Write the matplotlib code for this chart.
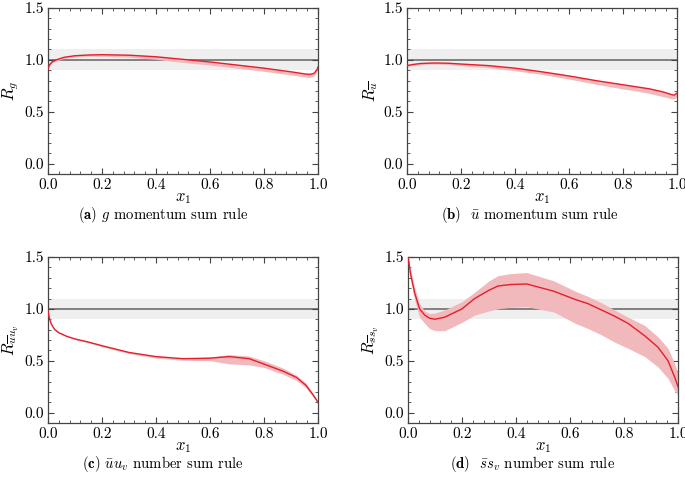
import numpy as np
import matplotlib.pyplot as plt
from matplotlib.ticker import MultipleLocator, FormatStrFormatter

plt.rcParams["font.family"] = "serif"
plt.rcParams["font.serif"] = ["cmr10"]
plt.rcParams["mathtext.fontset"] = "cm"
plt.rcParams["axes.formatter.use_mathtext"] = True

# (a) g momentum sum rule
xa = [0, 0.005, 0.015, 0.03, 0.06, 0.1, 0.15, 0.2, 0.3, 0.4, 0.5, 0.6, 0.7,
      0.8, 0.9, 0.95, 0.97, 0.985, 0.995, 1.0]
ca = [0.91, 0.95, 0.98, 1.0, 1.025, 1.04, 1.047, 1.05, 1.045, 1.03, 1.005,
      0.98, 0.95, 0.92, 0.885, 0.865, 0.86, 0.87, 0.9, 0.93]
la = [0.90, 0.94, 0.97, 0.99, 1.015, 1.03, 1.035, 1.035, 1.025, 1.005, 0.975,
      0.95, 0.92, 0.89, 0.855, 0.835, 0.83, 0.845, 0.88, 0.92]
ua = [0.915, 0.955, 0.985, 1.005, 1.03, 1.045, 1.052, 1.055, 1.05, 1.035,
      1.01, 0.985, 0.955, 0.925, 0.89, 0.87, 0.865, 0.875, 0.905, 0.935]

# (b) ubar momentum sum rule
xb = [0, 0.02, 0.05, 0.1, 0.15, 0.2, 0.3, 0.4, 0.5, 0.6, 0.7, 0.8, 0.85, 0.9,
      0.95, 0.98, 0.99, 1.0]
cb = [0.945, 0.955, 0.965, 0.97, 0.968, 0.96, 0.945, 0.92, 0.885, 0.845, 0.8,
      0.76, 0.74, 0.72, 0.69, 0.665, 0.66, 0.68]
lb = [0.935, 0.945, 0.955, 0.96, 0.955, 0.945, 0.925, 0.895, 0.86, 0.815,
      0.765, 0.72, 0.7, 0.675, 0.645, 0.625, 0.625, 0.65]
ub = [0.95, 0.96, 0.97, 0.975, 0.973, 0.965, 0.95, 0.925, 0.89, 0.85, 0.805,
      0.765, 0.745, 0.725, 0.695, 0.67, 0.665, 0.685]

# (c) ubar u_v number sum rule
xc = [0, 0.004, 0.012, 0.025, 0.04, 0.07, 0.1, 0.15, 0.2, 0.3, 0.4, 0.5, 0.6,
      0.67, 0.745, 0.8, 0.87, 0.92, 0.955, 0.98, 0.995, 1.0]
cc = [0.98, 0.92, 0.855, 0.8, 0.77, 0.735, 0.71, 0.68, 0.645, 0.58, 0.54,
      0.52, 0.525, 0.54, 0.52, 0.468, 0.40, 0.34, 0.264, 0.177, 0.12, 0.097]
lc = [0.975, 0.915, 0.85, 0.795, 0.765, 0.73, 0.705, 0.672, 0.635, 0.57,
      0.525, 0.505, 0.5, 0.47, 0.46, 0.435, 0.37, 0.31, 0.24, 0.16, 0.105, 0.09]
uc = [0.985, 0.925, 0.86, 0.805, 0.775, 0.74, 0.715, 0.685, 0.65, 0.585,
      0.545, 0.525, 0.535, 0.56, 0.545, 0.50, 0.43, 0.36, 0.285, 0.19, 0.13,
      0.105]

# (d) sbar s_v number sum rule
xd = [0, 0.01, 0.025, 0.043, 0.062, 0.08, 0.1, 0.136, 0.2, 0.247, 0.3, 0.333,
      0.38, 0.44, 0.54, 0.62, 0.667, 0.716, 0.765, 0.815, 0.877, 0.926, 0.963,
      0.988, 1.0]
cd = [1.5, 1.33, 1.15, 1.0, 0.94, 0.91, 0.90, 0.92, 1.0, 1.10, 1.18, 1.22,
      1.235, 1.24, 1.17, 1.09, 1.05, 0.99, 0.93, 0.86, 0.74, 0.63, 0.50, 0.34,
      0.25]
ld = [1.47, 1.28, 1.08, 0.92, 0.86, 0.81, 0.79, 0.79, 0.87, 0.94, 0.98, 1.0,
      1.015, 1.02, 0.97, 0.86, 0.81, 0.75, 0.68, 0.62, 0.54, 0.44, 0.33, 0.21,
      0.17]
ud = [1.52, 1.37, 1.2, 1.05, 0.98, 0.955, 0.96, 0.99, 1.07, 1.16, 1.27, 1.32,
      1.34, 1.35, 1.27, 1.17, 1.12, 1.06, 0.99, 0.92, 0.84, 0.73, 0.62, 0.47,
      0.37]

panels = [
    (xa, ca, la, ua, r"$R_g$", r"$\mathbf{(a)}$ $g$ momentum sum rule"),
    (xb, cb, lb, ub, r"$R_{\overline{u}}$", r"$\mathbf{(b)}$  $\bar{u}$ momentum sum rule"),
    (xc, cc, lc, uc, r"$R_{\overline{u}u_v}$", r"$\mathbf{(c)}$ $\bar{u}u_v$ number sum rule"),
    (xd, cd, ld, ud, r"$R_{\overline{s}s_v}$", r"$\mathbf{(d)}$  $\bar{s}s_v$ number sum rule"),
]

W, H = 685, 479
boxes = [(48, 8), (407, 8), (48, 257), (408, 257)]
caption_x = [163, 530, 163, 533]

fig = plt.figure(figsize=(W / 100, H / 100), dpi=100)

for i, (x, c, lo, up, ylab, cap) in enumerate(panels):
    left, top = boxes[i]
    ax = fig.add_axes([left / W, 1 - (top + 166) / H, 270 / W, 166 / H])
    ax.axhspan(0.9, 1.1, color="#efefef", lw=0, zorder=0)
    ax.axhline(1.0, color="#808080", lw=1.4, zorder=1)
    ax.fill_between(x, lo, up, color="#f2b9bd", lw=0, zorder=2)
    ax.plot(x, c, color="#e41f2b", lw=1.0, zorder=3)
    ax.set_xlim(0, 1)
    ax.set_ylim(-0.1, 1.5)
    ax.xaxis.set_major_locator(MultipleLocator(0.2))
    ax.xaxis.set_minor_locator(MultipleLocator(0.04))
    ax.yaxis.set_major_locator(MultipleLocator(0.5))
    ax.yaxis.set_minor_locator(MultipleLocator(0.1))
    ax.xaxis.set_major_formatter(FormatStrFormatter("%.1f"))
    ax.yaxis.set_major_formatter(FormatStrFormatter("%.1f"))
    ax.tick_params(which="both", direction="in", top=True, right=True,
                   color="#444444", labelsize=11, pad=3)
    ax.tick_params(which="major", length=4, width=0.8)
    ax.tick_params(which="minor", length=2, width=0.6)
    for s in ax.spines.values():
        s.set_color("#444444")
        s.set_linewidth(0.9)
    ax.set_xlabel(r"$x_1$", fontsize=12, labelpad=-1)
    ax.set_ylabel(ylab, fontsize=12, labelpad=2)
    fig.text(caption_x[i] / W, 1 - (top + 207) / H, cap, fontsize=10.6,
             ha="center", va="center")

fig.savefig("out.png", dpi=100)
